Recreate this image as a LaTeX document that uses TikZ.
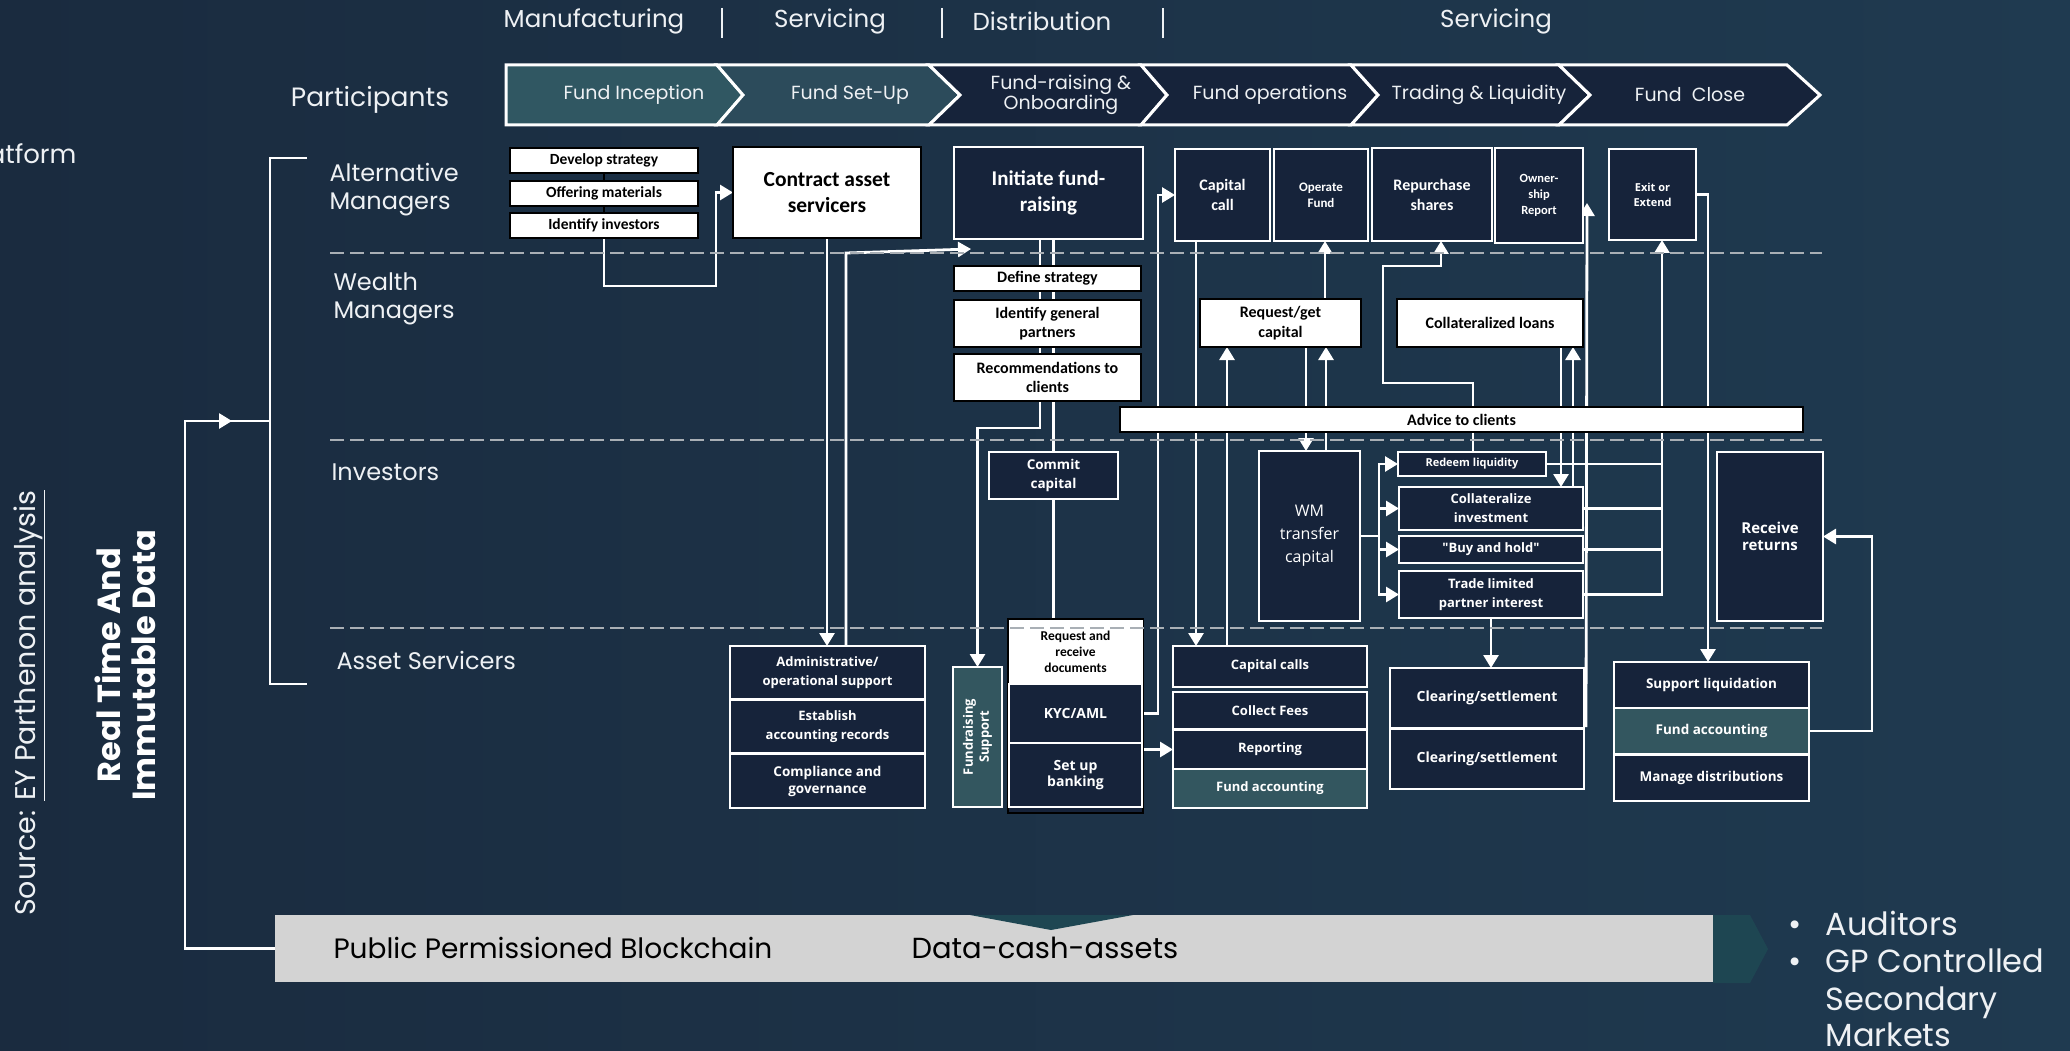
\documentclass[tikz,border=0pt]{standalone}
\usepackage{fontspec}
\setmainfont{Carlito}
\newfontfamily\pop{Poppins}
\newfontfamily\osans{Open Sans}
\usetikzlibrary{positioning,calc,arrows.meta}
\definecolor{bgleft}{HTML}{1A2B3F}
\definecolor{bgright}{HTML}{1F3A50}
\definecolor{boxnavy}{HTML}{16233A}
\definecolor{boxteal}{HTML}{33565F}
\definecolor{chevone}{HTML}{305762}
\definecolor{chevtwo}{HTML}{2C4B5B}
\definecolor{lanegray}{HTML}{A9AFB5}
\definecolor{chaingray}{HTML}{D3D3D3}
\definecolor{chainteal}{HTML}{1E4652}
\definecolor{labelwhite}{HTML}{EEF1F4}
\pgfdeclarelayer{backdrop}
\pgfdeclarelayer{wires}
\pgfsetlayers{backdrop,wires,main}

\begin{document}
\begin{tikzpicture}[x=1pt, y=-1pt,
    sz/.style 2 args={minimum width=#1pt, minimum height=#2pt},
    wbox/.style={draw=black, fill=white, text=black, line width=1.3pt, align=center, inner sep=1pt, outer sep=0pt},
    dbox/.style={draw=white, fill=boxnavy, text=white, line width=1.3pt, align=center, inner sep=1pt, outer sep=0pt},
    tbox/.style={dbox, fill=boxteal},
    calfont/.style 2 args={font=\bfseries\fontsize{#1}{#2}\selectfont},
    osfont/.style 2 args={font=\osans\bfseries\fontsize{#1}{#2}\selectfont},
    osreg/.style 2 args={font=\osans\fontsize{#1}{#2}\selectfont},
    popfont/.style 2 args={font=\pop\fontsize{#1}{#2}\selectfont, text=labelwhite},
    wire/.style={draw=white, line width=2.8pt},
    wirearrow/.style={wire, -{Triangle[width=15pt,length=13pt]}},
    laneline/.style={draw=lanegray, line width=1.3pt, dash pattern=on 14pt off 6pt},
    chev/.style={draw=white, line width=3pt, line join=miter},
  ]
  \useasboundingbox (0,0) rectangle (2070,1051);
  \clip (0,0) rectangle (2070,1051);
  \begin{pgfonlayer}{backdrop}
    \shade[left color=bgleft, right color=bgright] (0,0) rectangle (2070,1051);
  \end{pgfonlayer}

  % phases
  \node[popfont={24.5}{26}] (manuf) at (594,21) {Manufacturing};
  \node[popfont={24.5}{26}] (serv) at (830,21) {Servicing};
  \node[popfont={24.5}{26}] (distr) at (1042,21) {Distribution};
  \node[popfont={24.5}{26}] (servb) at (1496,21) {Servicing};
  \foreach \x in {722,942,1163}
    \draw[labelwhite, line width=1.2pt] (\x,8) -- (\x,38);

  \filldraw[chev, fill=chevone] (506,65) -- (717,65) -- (743,95) -- (717,125) -- (506,125) -- cycle;
  \filldraw[chev, fill=chevtwo] (717,65) -- (929,65) -- (960,95) -- (929,125) -- (717,125) -- (743,95) -- cycle;
  \filldraw[chev, fill=boxnavy] (929,65) -- (1141,65) -- (1167,95) -- (1141,125) -- (929,125) -- (960,95) -- cycle;
  \filldraw[chev, fill=boxnavy] (1141,65) -- (1351,65) -- (1378,95) -- (1351,125) -- (1141,125) -- (1167,95) -- cycle;
  \filldraw[chev, fill=boxnavy] (1351,65) -- (1559,65) -- (1590,95) -- (1559,125) -- (1351,125) -- (1378,95) -- cycle;
  \filldraw[chev, fill=boxnavy] (1559,65) -- (1787,65) -- (1820,95) -- (1787,125) -- (1559,125) -- (1590,95) -- cycle;
  \node[popfont={19}{18}] (inception) at (634,95) {Fund Inception};
  \node[popfont={19}{18}] (setupfund) at (850,95) {Fund Set-Up};
  \node[popfont={19}{18}, align=center] (raising) at (1061,95) {Fund-raising \&\\Onboarding};
  \node[popfont={19}{18}] (operations) at (1270,95) {Fund operations};
  \node[popfont={19}{18}] (trading) at (1479,95) {Trading \& Liquidity};
  \node[popfont={19}{18}] (close) at (1690,95) {Fund~~Close};

  % participants
  \node[popfont={26}{30}, anchor=east] (platform) at (80,154) {Platform};
  \node[popfont={28.5}{32}, rotate=90] (source) at (29,703) {Source: \underline{EY Parthenon analysis}};
  \node[font=\pop\bfseries\fontsize{32}{35}\selectfont, text=white, rotate=90, align=center] (realtime) at (125.5,665) {Real Time And\\Immutable Data};
  \node[popfont={26.5}{30}] (participants) at (370,100) {Participants};
  \node[popfont={24}{28}, anchor=west, align=left] (altman) at (326,190) {Alternative\\Managers};
  \node[popfont={24}{28}, anchor=west, align=left] (wealthman) at (330,299) {Wealth\\Managers};
  \node[popfont={24}{28}, anchor=west] (investors) at (328,472) {Investors};
  \node[popfont={24}{28}, anchor=west] (servicers) at (333,660) {Asset Servicers};

  % alternative managers
  \node[wbox, calfont={15.5}{17}, sz={188}{25}] (dev) at (604,160.5) {Develop strategy};
  \node[wbox, calfont={15.5}{17}, sz={188}{25}] (offer) at (604,193.5) {Offering materials};
  \node[wbox, calfont={15.5}{17}, sz={188}{25}] (ident) at (604,225.5) {Identify investors};
  \node[wbox, calfont={21.5}{26}, sz={188}{91}] (contract) at (827,192.5) {Contract asset\\servicers};
  \node[dbox, calfont={21}{26}, sz={189}{92}] (initiate) at (1048.5,193) {Initiate fund-\\raising};
  \node[dbox, calfont={16}{20}, sz={95}{92}] (capcall) at (1222.5,195) {Capital\\call};
  \node[dbox, calfont={13}{16}, sz={94}{92}] (operate) at (1321,195) {Operate\\Fund};
  \node[dbox, calfont={16}{20}, sz={120}{93}] (repurch) at (1432,194.5) {Repurchase\\shares};
  \node[dbox, calfont={12.5}{16}, sz={88}{95}] (owner) at (1539,195.5) {Owner-\\ship\\Report};
  \node[dbox, osfont={11}{15}, sz={87}{91}] (exit) at (1652.5,194.5) {Exit or\\Extend};

  % wealth managers
  \node[wbox, calfont={16}{17}, sz={187}{25}] (define) at (1047.5,278.5) {Define strategy};
  \node[wbox, calfont={16}{19}, sz={187}{47}] (identgp) at (1047.5,323.5) {Identify general\\partners};
  \node[wbox, calfont={16}{19}, sz={187}{47}] (recomm) at (1047.5,377.5) {Recommendations to\\clients};
  \node[wbox, calfont={16}{20}, sz={161}{48}] (reqcap) at (1280.5,323) {Request/get\\capital};
  \node[wbox, calfont={16}{18}, sz={186}{48}] (colloans) at (1490,323) {Collateralized loans};
  \node[wbox, calfont={16}{17}, sz={683}{25}] (advice) at (1461.5,419.5) {Advice to clients};

  % investors
  \node[dbox, osfont={13.5}{19}, sz={129}{47}] (commit) at (1053.5,475.5) {Commit\\capital};
  \node[dbox, osreg={16}{23}, sz={101}{170}] (wm) at (1309.5,536) {WM\\transfer\\capital};
  \node[dbox, osfont={11}{13}, sz={148}{24}] (redeem) at (1472,464) {Redeem liquidity};
  \node[dbox, osfont={13}{19}, sz={184}{43}] (collinv) at (1491,508.5) {Collateralize\\investment};
  \node[dbox, osfont={13}{15}, sz={184}{27}] (buy) at (1491,549.5) {"Buy and hold"};
  \node[dbox, osfont={13}{19}, sz={184}{47}] (trade) at (1491,594.5) {Trade limited\\partner interest};
  \node[dbox, osfont={15}{17}, sz={106}{169}] (receive) at (1770,536.5) {Receive\\returns};

  % asset servicers
  \node[dbox, osfont={13}{19}, sz={195}{53}] (admin) at (827.5,672.5) {Administrative/\\operational support};
  \node[dbox, osfont={13}{19}, sz={195}{53}, below=1pt of admin] (establish) {Establish\\accounting records};
  \node[dbox, osfont={13.5}{17}, sz={195}{54}, below=1pt of establish] (compliance) {Compliance and\\governance};
  \node[tbox, sz={49}{140}] (frsupport) at (977.5,737) {};
  \node[osfont={13}{16}, text=white, rotate=90, align=center] (frtext) at (frsupport.center) {Fundraising\\Support};
  \node[draw=black, fill=boxnavy, line width=1.5pt, outer sep=0pt, sz={135}{194}] (reqframe) at (1075.5,716) {};
  \node[wbox, draw=none, calfont={13.5}{16}, sz={134}{64}] (reqdocs) at (1075.5,651.5) {Request and\\receive\\documents};
  \node[dbox, osfont={14}{16}, sz={133}{59}] (kyc) at (1075.5,713.5) {KYC/AML};
  \node[dbox, osfont={14}{16}, sz={133}{64}] (setup) at (1075.5,775) {Set up\\banking};
  \node[dbox, osfont={13}{15}, sz={194}{41}] (capcalls) at (1270,666.5) {Capital calls};
  \node[dbox, osfont={13}{15}, sz={194}{37}, below=5pt of capcalls] (fees) {Collect Fees};
  \node[dbox, osfont={13}{15}, sz={194}{39}, below=1pt of fees] (reporting) {Reporting};
  \node[tbox, osfont={13}{15}, sz={194}{39}, below=0pt of reporting] (fundacc) {Fund accounting};
  \node[dbox, osfont={14}{16}, sz={194}{60}] (clear1) at (1487,698) {Clearing/settlement};
  \node[dbox, osfont={14}{16}, sz={194}{60}, below=1pt of clear1] (clear2) {Clearing/settlement};
  \node[dbox, osfont={13.5}{16}, sz={195}{46}] (suppliq) at (1711.5,685) {Support liquidation};
  \node[tbox, osfont={13.5}{16}, sz={195}{46}, below=0pt of suppliq] (fundaccb) {Fund accounting};
  \node[dbox, osfont={13.5}{16}, sz={195}{46}, below=1pt of fundaccb] (managedist) {Manage distributions};

  % blockchain
  \node[fill=chaingray, sz={1439}{67}, outer sep=0pt] (chain) at (994.5,948.5) {};
  \fill[chainteal] (970,915) -- (1133,915) -- (1051,930) -- cycle;
  \fill[chainteal] (1713,915) -- (1750,915) -- (1768,949) -- (1750,983) -- (1713,983) -- cycle;
  \node[popfont={28}{32}, text=black, anchor=west] (permissioned) at (330,948) {Public Permissioned Blockchain};
  \node[popfont={29}{32}, text=black, anchor=west] (datacash) at (908,948) {Data-cash-assets};
  \node[popfont={32}{36}, anchor=base] (bulleta) at (1795,935) {•};
  \node[popfont={32}{36}, anchor=base] (bulletb) at (1795,972) {•};
  \node[popfont={32}{36}, anchor=base west] (auditors) at (1822,935) {Auditors};
  \node[popfont={32}{36}, anchor=base west] (gpcontrol) at (1822,972) {GP Controlled};
  \node[popfont={32}{36}, anchor=base west] (secondary) at (1822,1010) {Secondary};
  \node[popfont={32}{36}, anchor=base west] (markets) at (1822,1046) {Markets};

  % lanes
  \foreach \y in {253,440,628}
    \draw[laneline] (330,\y) -- (1822,\y);

  % connectors
  \begin{pgfonlayer}{wires}
    \coordinate (brk) at (270,421);
    \coordinate (rail) at ($(exit.south)+(9.5,0)$);
    \draw[wire] (307,158) -- (270,158) -- (270,684) -- (307,684);
    \draw[wirearrow] (chain.west) -- ++(-90,0) |- ($(brk)+(-38,0)$);
    \draw[wire] ($(brk)+(-40,0)$) -- (brk);
    \draw[black, line width=2.5pt] (dev.south) -- (offer.north) (offer.south) -- (ident.north);
    \draw[wirearrow] (ident.south) -- ++(0,48) -| ($(contract.west)+(-17,0)$) -- (contract.west);
    \draw[wirearrow] (contract.south) -- (contract.south |- admin.north);
    \draw[wirearrow] ($(admin.north)+(18.5,0)$) -- ++(0,-393) -- ($(initiate.south west)+(17,10)$);
    \draw[wirearrow] ($(initiate.south)+(-8.5,0)$) -- ++(0,189) -| (frsupport.north);
    \draw[wire] (initiate.south -| commit.north) -- (commit.north);
    \draw[wire] (commit.south) -- (commit.south |- reqdocs.north);
    \draw[wirearrow] (kyc.east) -- ++(16,0) |- (capcall.west);
    \draw[wirearrow] ($(capcall.south)+(-26.5,0)$) -- ($(capcalls.north)+(-74,0)$);
    \draw[wirearrow] ($(capcalls.north)+(-43,0)$) -- ($(reqcap.south)+(-53.5,0)$);
    \draw[wirearrow] ($(reqcap.south)+(25.5,0)$) -- ($(wm.north)+(-3.5,0)$);
    \draw[wirearrow] ($(wm.north)+(16.5,0)$) -- ($(reqcap.south)+(45.5,0)$);
    \draw[wirearrow] ($(reqcap.north)+(44.5,0)$) -- ($(operate.south)+(4,0)$);
    \draw[wirearrow] ($(redeem.north)+(1,0)$) -- ++(0,-69) -- ++(-90,0) -- ++(0,-117) -- ++(58,0) -- ($(repurch.south)+(9,0)$);
    \draw[wirearrow] ($(colloans.south)+(71,0)$) -- ($(collinv.north)+(70,0)$);
    \draw[wirearrow] ($(collinv.north)+(82,0)$) -- ($(colloans.south)+(83,0)$);
    \foreach \b in {redeem,collinv,buy,trade}
      \draw[wirearrow] (wm.east) -- ++(19,0) |- (\b.west);
    \foreach \b in {redeem,collinv,buy}
      \draw[wire] (\b.east) -- (\b.east -| rail);
    \draw[wirearrow] (trade.east) -| (rail);
    \draw[wirearrow] (trade.south) -- (trade.south |- clear1.north);
    \draw[wirearrow] ($(clear1.south east)+(2,-1)$) -- ($(owner.south east)+(4,-40)$);
    \draw[wirearrow] (exit.east) -| ($(suppliq.north)+(-3.5,0)$);
    \draw[wirearrow] (fundaccb.east) -- ++(63,0) |- (receive.east);
    \draw[wirearrow] (setup.east |- reporting.west) -- (reporting.west);
  \end{pgfonlayer}
\end{tikzpicture}
\end{document}
